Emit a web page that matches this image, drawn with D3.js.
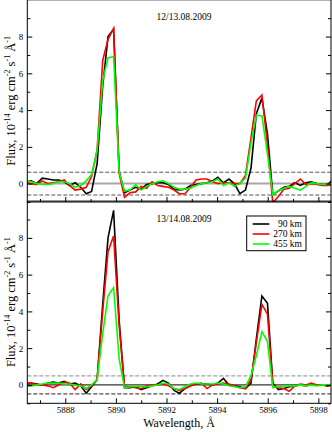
<!DOCTYPE html>
<html>
<head>
<meta charset="utf-8">
<script src="https://cdn.jsdelivr.net/npm/d3@7"></script>
<style>
  body { margin: 0; background: #fff; }
  text { font-family: "Liberation Serif", "DejaVu Serif", serif; fill: #000; }
</style>
</head>
<body>
<svg id="chart" width="332" height="432"></svg>
<script>
// wavelength grid of the spectra (Angstrom)
const wavelength = [5886.44, 5886.66, 5886.87, 5887.09, 5887.31, 5887.52, 5887.74, 5887.96, 5888.17, 5888.39,
  5888.61, 5888.83, 5889.04, 5889.26, 5889.48, 5889.69, 5889.91, 5890.13, 5890.34, 5890.56,
  5890.78, 5891.00, 5891.21, 5891.43, 5891.65, 5891.86, 5892.08, 5892.30, 5892.51, 5892.73,
  5892.95, 5893.17, 5893.38, 5893.60, 5893.82, 5894.03, 5894.25, 5894.47, 5894.68, 5894.90,
  5895.12, 5895.34, 5895.55, 5895.77, 5895.99, 5896.20, 5896.42, 5896.64, 5896.85, 5897.07,
  5897.29, 5897.51, 5897.72, 5897.94, 5898.16, 5898.37, 5898.59];

// 12/13.08.2009
const night1_90 = [0.1, 0.15, 0.0, 0.3, 0.25, 0.2, 0.2, 0.1, -0.1, 0.05, -0.2, -0.55, -0.43, 1.1, 5.3, 8.0,
  8.4, 0.65, -0.5, -0.35, -0.2, -0.3, -0.05, 0.0, 0.05, 0.05,
  -0.05, -0.3, -0.35, -0.3, -0.1, -0.05, 0.0, 0.05, 0.15, 0.35,
  0.05, 0.25, 0.0, -0.55, -0.35, 0.85, 3.8, 4.65, 2.7, -0.6,
  -0.4, -0.2, -0.15, 0.05, -0.1, 0.05, 0.1, 0.0, -0.05, -0.05, 0.25];
const night1_270 = [0.05, 0.0, -0.05, 0.15, 0.0, 0.05, 0.1, 0.2, -0.1, -0.35, -0.3, -0.2, 0.4, 1.85, 6.7, 7.85,
  8.45, 0.55, -0.75, -0.5, -0.45, -0.15, -0.25, 0.1, -0.1, -0.15,
  -0.2, -0.35, -0.55, -0.55, -0.2, 0.2, 0.25, 0.25, 0.1, 0.0,
  0.05, 0.05, 0.0, 0.0, 0.45, 2.5, 4.5, 4.82, 2.1, -1.05,
  -0.7, -0.3, -0.25, 0.0, 0.25, -0.05, 0.0, -0.05, -0.1, -0.1, -0.05];
const night1_455 = [0.15, 0.1, 0.0, -0.05, -0.05, 0.0, 0.1, 0.1, 0.0, -0.2, -0.1, 0.15, 0.5, 1.8, 5.6, 6.85,
  6.9, 0.6, -0.4, -0.35, -0.05, -0.35, -0.15, 0.0, 0.1, 0.15,
  0.0, -0.2, -0.3, -0.3, -0.25, -0.1, 0.0, 0.05, 0.1, 0.25,
  -0.1, 0.05, -0.15, 0.0, 0.3, 2.2, 3.73, 3.68, 1.6, -0.6,
  -0.4, -0.25, -0.15, -0.25, -0.35, -0.15, 0.05, 0.0, -0.05, -0.05, 0.0];

// 13/14.08.2009
const night2_90 = [0.05, 0.1, 0.05, 0.0, 0.1, 0.15, 0.1, 0.2, 0.05, 0.1, -0.05, -0.45, -0.1, 0.3, 4.4, 8.0,
  9.5, 3.5, -0.15, -0.15, -0.1, -0.25, -0.15, -0.05, 0.05, 0.25,
  0.1, -0.3, -0.45, -0.2, -0.05, 0.05, 0.05, 0.05, 0.0, 0.1,
  0.35, 0.0, -0.05, -0.1, -0.2, 0.1, 2.5, 4.84, 4.44, 0.1,
  -0.25, -0.2, -0.1, -0.05, 0.0, -0.05, 0.05, 0.0, 0.0, -0.05, 0.0];
const night2_270 = [0.1, 0.1, 0.0, 0.0, -0.05, -0.15, 0.0, 0.15, 0.1, -0.25, 0.05, -0.25, -0.05, 0.3, 4.0, 7.25,
  8.1, 3.2, -0.1, -0.1, -0.15, -0.2, -0.05, 0.0, 0.0, 0.05,
  -0.05, -0.2, -0.3, -0.2, -0.05, 0.05, 0.1, -0.2, 0.0, 0.05,
  0.1, 0.05, -0.05, -0.15, -0.2, 0.3, 2.3, 4.38, 3.85, 0.0,
  -0.15, -0.2, -0.35, -0.05, 0.05, 0.0, 0.1, 0.0, 0.0, -0.05, 0.0];
const night2_455 = [-0.1, -0.05, 0.0, 0.05, 0.1, 0.1, 0.1, 0.05, 0.05, 0.0, -0.05, -0.2, 0.0, 0.3, 2.8, 4.85,
  5.3, 1.4, -0.15, -0.1, -0.05, -0.1, -0.1, -0.05, 0.0, 0.1,
  0.05, -0.2, -0.25, -0.1, 0.05, 0.1, 0.05, 0.05, 0.05, 0.1,
  0.05, -0.05, -0.1, -0.15, -0.1, 0.5, 1.6, 2.9, 2.36, -0.15,
  -0.1, -0.05, -0.05, -0.05, 0.0, -0.05, 0.0, -0.05, 0.0, 0.0, 0.05];

const seriesNames = ["90 km", "270 km", "455 km"];
const seriesColors = ["#000000", "#ff0000", "#00ff00"];
const panelTitles = ["12/13.08.2009", "13/14.08.2009"];
const noiseLevel = [0.62, 0.49];   // dashed +/- levels

const xMajor = [5888, 5890, 5892, 5894, 5896, 5898];
const xMinor = [5887, 5889, 5891, 5893, 5895, 5897];
const yMajor = [0, 2, 4, 6, 8];
const yMinor = [-1, 1, 3, 5, 7, 9];

const panels = [
  { title: panelTitles[0], series: [night1_90, night1_270, night1_455], noise: noiseLevel[0],
    top: -0.2, zeroColor: "#a8a8a8", zeroWidth: 2, dashColors: ["#555", "#555"], legend: false, xLabels: false },
  { title: panelTitles[1], series: [night2_90, night2_270, night2_455], noise: noiseLevel[1],
    top: 201.1, zeroColor: "#000", zeroWidth: 1, dashColors: ["#8a8a8a", "#222"], legend: true, xLabels: true }
];

const svg = d3.select("#chart");
const left = 27.3, right = 331, panelH = 202.2;

const x = d3.scaleLinear().domain([5886.5, 5898.5]).range([left, right]);

panels.forEach((p, pi) => {
  const y = d3.scaleLinear().domain([-1, 10]).range([p.top + panelH, p.top]);
  const g = svg.append("g");

  g.append("clipPath").attr("id", "clip" + pi)
    .append("rect")
    .attr("x", left).attr("y", p.top)
    .attr("width", right - left).attr("height", panelH);

  //----------------------------------------
  // reference lines
  //----------------------------------------
  [p.noise, -p.noise].forEach((v, i) => {
    g.append("line")
      .attr("x1", left).attr("x2", right)
      .attr("y1", y(v)).attr("y2", y(v))
      .attr("stroke", p.dashColors[i])
      .attr("stroke-width", 1)
      .attr("stroke-dasharray", "4,2");
  });
  g.append("line")
    .attr("x1", left).attr("x2", right)
    .attr("y1", y(0)).attr("y2", y(0))
    .attr("stroke", p.zeroColor)
    .attr("stroke-width", p.zeroWidth);

  //----------------------------------------
  // spectra
  //----------------------------------------
  const line = d3.line()
    .x((d, i) => x(wavelength[i]))
    .y(d => y(d));

  g.append("g").attr("clip-path", `url(#clip${pi})`)
    .selectAll("path")
    .data(p.series)
    .enter()
    .append("path")
    .attr("d", line)
    .attr("fill", "none")
    .attr("stroke", (d, i) => seriesColors[i])
    .attr("stroke-width", 1.6)
    .attr("stroke-linejoin", "miter");

  //----------------------------------------
  // axes (ticks point inward)
  //----------------------------------------
  const addAxis = (axis, transform) => {
    const a = g.append("g").attr("transform", transform).call(axis);
    a.select(".domain").remove();
    a.selectAll("text")
      .style("font-family", '"Liberation Serif", serif')
      .style("font-size", "9px");
    return a;
  };

  addAxis(d3.axisLeft(y).tickValues(yMajor).tickSize(-5).tickPadding(4).tickFormat(d3.format("d")),
    `translate(${left},0)`);
  addAxis(d3.axisLeft(y).tickValues(yMinor).tickSize(-3).tickFormat(""), `translate(${left},0)`);
  addAxis(d3.axisRight(y).tickValues(yMajor).tickSize(-5).tickFormat(""), `translate(${right},0)`);
  addAxis(d3.axisRight(y).tickValues(yMinor).tickSize(-3).tickFormat(""), `translate(${right},0)`);

  addAxis(d3.axisBottom(x).tickValues(xMajor).tickSize(-5).tickPadding(3.5)
      .tickFormat(p.xLabels ? d3.format("d") : ""),
    `translate(0,${p.top + panelH})`);
  addAxis(d3.axisBottom(x).tickValues(xMinor).tickSize(-3).tickFormat(""),
    `translate(0,${p.top + panelH})`);

  // frame
  g.append("rect")
    .attr("x", left).attr("y", p.top)
    .attr("width", right - left).attr("height", panelH)
    .attr("fill", "none")
    .attr("stroke", "#000")
    .attr("stroke-width", 1);

  // title inside the panel
  g.append("text")
    .attr("x", 184).attr("y", p.top + 20.5)
    .attr("text-anchor", "middle")
    .style("font-size", "9.5px")
    .text(p.title);

  //----------------------------------------
  // y label with superscripts
  //----------------------------------------
  const yl = g.append("text")
    .attr("transform", `translate(14.5,${p.top + panelH / 2}) rotate(-90)`)
    .attr("text-anchor", "middle")
    .style("font-size", "12.5px");
  const parts = [["Flux, 10", false], ["-14", true], [" erg cm", false], ["-2", true],
    [" s", false], ["-1", true], [" Å", false], ["-1", true]];
  parts.forEach(([t, sup]) => {
    yl.append("tspan")
      .attr("dy", sup ? -5 : 5)
      .style("font-size", sup ? "8px" : "12.5px")
      .text(t);
  });
  yl.select("tspan").attr("dy", 0);

  //----------------------------------------
  // legend
  //----------------------------------------
  if (p.legend) {
    const lg = g.append("g");
    lg.append("rect")
      .attr("x", 246.7).attr("y", 216)
      .attr("width", 59.3).attr("height", 34.7)
      .attr("fill", "#fff")
      .attr("stroke", "#000")
      .attr("stroke-width", 1);
    seriesNames.forEach((name, i) => {
      lg.append("line")
        .attr("x1", 252.7).attr("x2", 269.3)
        .attr("y1", 224 + i * 10).attr("y2", 224 + i * 10)
        .attr("stroke", seriesColors[i])
        .attr("stroke-width", 1.6);
      lg.append("text")
        .attr("x", 302).attr("y", 227.3 + i * 10)
        .attr("text-anchor", "end")
        .style("font-size", "9.5px")
        .text(name);
    });
  }
});

// x label
svg.append("text")
  .attr("x", 179).attr("y", 427)
  .attr("text-anchor", "middle")
  .style("font-size", "12px")
  .text("Wavelength, Å");
</script>
</body>
</html>
